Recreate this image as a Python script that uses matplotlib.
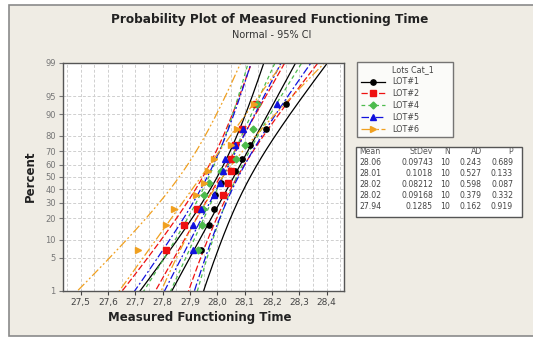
from statistics import NormalDist
import numpy as np
import matplotlib
matplotlib.use("Agg")
import matplotlib.pyplot as plt
from matplotlib.lines import Line2D
from matplotlib.patches import Rectangle
from matplotlib.ticker import FuncFormatter

# plotting positions (median ranks, n = 10) in percent
pct = [6.73, 16.35, 25.96, 35.58, 45.19, 54.81, 64.42, 74.04, 83.65, 93.27]

lots = ["LOT#1", "LOT#2", "LOT#4", "LOT#5", "LOT#6"]
lot1 = [27.939, 27.970, 27.989, 27.992, 28.012, 28.065, 28.089, 28.120, 28.180, 28.251]
lot2 = [27.812, 27.879, 27.927, 28.022, 28.040, 28.049, 28.050, 28.065, 28.089, 28.140]
lot4 = [27.930, 27.945, 27.948, 27.950, 27.970, 28.015, 28.068, 28.101, 28.129, 28.144]
lot5 = [27.910, 27.910, 27.939, 27.988, 28.011, 28.022, 28.030, 28.065, 28.095, 28.220]
lot6 = [27.711, 27.812, 27.843, 27.921, 27.951, 27.967, 27.989, 28.052, 28.071, 28.134]
values = [lot1, lot2, lot4, lot5, lot6]

means = [28.06, 28.01, 28.02, 28.02, 27.94]
stdevs = [0.09743, 0.1018, 0.08212, 0.09168, 0.1285]
ns = [10, 10, 10, 10, 10]
ad = [0.243, 0.527, 0.598, 0.379, 0.162]
pvals = [0.689, 0.133, 0.087, 0.332, 0.919]

x_ticks = [27.5, 27.6, 27.7, 27.8, 27.9, 28.0, 28.1, 28.2, 28.3, 28.4]
y_ticks = [1, 5, 10, 20, 30, 40, 50, 60, 70, 80, 90, 95, 99]

colors = ["#000000", "#ee1111", "#4cbb4c", "#1111dd", "#f0a020"]
markers = ["o", "s", "D", "^", ">"]
msizes = [3.8, 3.8, 3.5, 4.3, 4.3]
dashes = [(None, None), (5, 2), (3, 2.5), (6, 2, 1.5, 2), (7, 2, 1.5, 2, 1.5, 2)]

bg = "#efece4"
nd = NormalDist()


def fwd(p):
    p = np.clip(np.asarray(p, dtype=float) / 100.0, 1e-6, 1 - 1e-6)
    return np.vectorize(nd.inv_cdf, otypes=[float])(p)


def inv(z):
    return np.vectorize(nd.cdf, otypes=[float])(np.asarray(z, dtype=float)) * 100.0


fig = plt.figure(figsize=(5.33, 3.37), dpi=100)
fig.patch.set_facecolor("white")
fig.patches.append(Rectangle((9 / 533, 0.003), 1.0, (334 - 3) / 337, transform=fig.transFigure,
                             facecolor=bg, edgecolor="#8a8a8a", linewidth=1.2, zorder=-10))

ax = fig.add_axes([62.7 / 533, 46 / 337, (344.3 - 62.7) / 533, (291 - 63) / 337])
ax.set_facecolor("white")
ax.set_yscale("function", functions=(fwd, inv))
ax.set_ylim(1, 99)
ax.set_xlim(27.434, 28.465)

for gx in np.arange(27.45, 28.46, 0.05):
    ax.axvline(gx, color="#cfcfcf", lw=0.7, ls=(0, (3, 2)), zorder=0)
for gy in y_ticks:
    ax.axhline(gy, color="#cfcfcf", lw=0.7, ls=(0, (3, 2)), zorder=0)

z = np.linspace(-2.6, 2.6, 200)
pz = inv(z)
for i in range(len(lots)):
    m, s, n = means[i], stdevs[i], ns[i]
    half = 1.96 * s * np.sqrt(1.0 / n + z ** 2 / (2.0 * n))
    kw = dict(color=colors[i], lw=0.9, zorder=2)
    if dashes[i][0] is not None:
        kw["dashes"] = dashes[i]
    ax.plot(m + s * z, pz, **kw)
    ax.plot(m + s * z - half, pz, **kw)
    ax.plot(m + s * z + half, pz, **kw)

for i in range(len(lots)):
    ax.plot(values[i], pct, ls="none", marker=markers[i], ms=msizes[i], color=colors[i],
            markeredgecolor=colors[i], zorder=3)

ax.set_xticks(x_ticks)
ax.set_yticks(y_ticks)
ax.xaxis.set_major_formatter(FuncFormatter(lambda v, p: f"{v:.1f}".replace(".", ",")))
ax.yaxis.set_major_formatter(FuncFormatter(lambda v, p: f"{v:g}"))
ax.yaxis.set_minor_locator(matplotlib.ticker.NullLocator())
ax.tick_params(axis="x", labelsize=6.5, colors="#444444", length=3, width=0.8, pad=2)
ax.tick_params(axis="y", labelsize=6, colors="#777777", length=3, width=0.8, pad=2)
for sp in ax.spines.values():
    sp.set_color("#555555")
    sp.set_linewidth(1.0)

fig.text(270 / 533, 1 - 19.5 / 337, "Probability Plot of Measured Functioning Time",
         ha="center", va="center", fontsize=8.7, fontweight="bold", color="#222222")
fig.text(272 / 533, 1 - 35.5 / 337, "Normal - 95% CI", ha="center", va="center",
         fontsize=7, color="#333333")
fig.text(200 / 533, 1 - 317 / 337, "Measured Functioning Time", ha="center", va="center",
         fontsize=8.5, fontweight="bold", color="#222222")
fig.text(30 / 533, 1 - 176 / 337, "Percent", ha="center", va="center", rotation=90,
         fontsize=8.5, fontweight="bold", color="#222222")

# legend
handles = [Line2D([], [], ls="none", marker=None)]
labels = ["Lots Cat_1"]
for i in range(len(lots)):
    h = Line2D([], [], color=colors[i], lw=0.9, marker=markers[i], ms=msizes[i],
               markeredgecolor=colors[i])
    if dashes[i][0] is not None:
        h.set_dashes(dashes[i])
    handles.append(h)
    labels.append(lots[i])
leg = fig.legend(handles, labels, loc="upper left",
                 bbox_to_anchor=(357 / 533, 1 - 62 / 337, 96 / 533, 0.0), mode="expand",
                 fontsize=5.8, frameon=True, fancybox=False, handlelength=3.0,
                 handletextpad=0.9, labelspacing=0.35, borderpad=0.45, borderaxespad=0)
leg.get_frame().set_edgecolor("#555555")
leg.get_frame().set_linewidth(1.0)
for t in leg.get_texts():
    t.set_color("#444444")

# statistics table
fig.patches.append(Rectangle((356 / 533, 1 - 217 / 337), 166 / 533, 70 / 337,
                             transform=fig.transFigure, facecolor="white",
                             edgecolor="#555555", linewidth=1.0))
col_x = [359, 433, 450, 482, 513]
col_ha = ["left", "right", "right", "right", "right"]
headers = ["Mean", "StDev", "N", "AD", "P"]
row_y = [151, 162.5, 173.5, 184.5, 195.5, 206.5]
for c in range(5):
    fig.text(col_x[c] / 533, 1 - row_y[0] / 337, headers[c], ha=col_ha[c], va="center",
             fontsize=5.6, color="#555555")
for r in range(len(lots)):
    row = [f"{means[r]:.2f}", f"{stdevs[r]:.4g}", f"{ns[r]}", f"{ad[r]:.3f}", f"{pvals[r]:.3f}"]
    for c in range(5):
        fig.text(col_x[c] / 533, 1 - row_y[r + 1] / 337, row[c], ha=col_ha[c], va="center",
                 fontsize=5.6, color="#444444")

fig.savefig("out.png", dpi=100, facecolor=fig.get_facecolor())
